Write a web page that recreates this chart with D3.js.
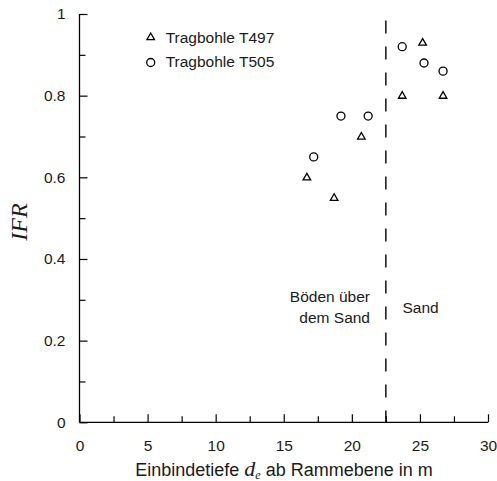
<!DOCTYPE html>
<html>
<head>
<meta charset="utf-8">
<script src="https://cdn.jsdelivr.net/npm/d3@7"></script>
<style>
  body { margin: 0; background: #fff; }
</style>
</head>
<body>
<div id="chart"></div>
<script>
// data
const depthT497 = [16.7, 18.7, 20.7, 23.7, 25.2, 26.7];
const ifrT497   = [0.60, 0.55, 0.70, 0.80, 0.93, 0.80];
const depthT505 = [17.2, 19.2, 21.2, 23.7, 25.3, 26.7];
const ifrT505   = [0.65, 0.75, 0.75, 0.92, 0.88, 0.86];
const seriesNames = ["Tragbohle T497", "Tragbohle T505"];
const xTicks = [0, 5, 10, 15, 20, 25, 30];
const yTicks = [0, 0.2, 0.4, 0.6, 0.8, 1];
const boundary = 22.5;

const width = 497, height = 481;
const sans = "Liberation Sans, Arial, Helvetica, sans-serif";
const serif = "Liberation Serif, Times New Roman, serif";

const svg = d3.select("#chart").append("svg")
    .attr("width", width)
    .attr("height", height)
    .style("font-family", sans);

const x = d3.scaleLinear().domain([0, 30]).range([79.5, 488]);
const y = d3.scaleLinear().domain([0, 1]).range([422.3, 14]);

// axes (ticks point inward)
const xAxis = d3.axisBottom(x).tickValues(xTicks).tickSize(-8).tickPadding(18)
    .tickFormat(d3.format("d"));
const xMinor = d3.axisBottom(x).tickValues(d3.range(2.5, 30, 5)).tickSize(-6).tickFormat("");
const yAxis = d3.axisLeft(y).tickValues(yTicks).tickSize(-8).tickPadding(14)
    .tickFormat(d => d === 0 || d === 1 ? d3.format("d")(d) : d3.format(".1f")(d));
const yMinor = d3.axisLeft(y).tickValues(d3.range(0.1, 1, 0.2)).tickSize(-6).tickFormat("");

function styleAxis(g) {
    g.select(".domain").remove();
    g.selectAll(".tick line").attr("stroke", "#000").attr("stroke-width", 1.2);
    g.selectAll(".tick text").attr("font-size", 15.5).attr("fill", "#1a1a1a")
        .attr("font-family", sans);
}

svg.append("g").attr("transform", `translate(0,${y(0)})`).call(xMinor).call(styleAxis);
svg.append("g").attr("transform", `translate(0,${y(0)})`).call(xAxis).call(styleAxis);
svg.append("g").attr("transform", `translate(${x(0)},0)`).call(yMinor).call(styleAxis);
svg.append("g").attr("transform", `translate(${x(0)},0)`).call(yAxis).call(styleAxis);

// plain axis lines, only left and bottom
svg.append("line").attr("x1", x(0)).attr("x2", x(30)).attr("y1", y(0)).attr("y2", y(0))
    .attr("stroke", "#000").attr("stroke-width", 1.3);
svg.append("line").attr("x1", x(0)).attr("x2", x(0)).attr("y1", y(0)).attr("y2", y(1))
    .attr("stroke", "#000").attr("stroke-width", 1.3);

// boundary between soil layers
svg.append("line")
    .attr("x1", x(boundary)).attr("x2", x(boundary))
    .attr("y1", y(0.984)).attr("y2", y(0))
    .attr("stroke", "#000").attr("stroke-width", 1.4)
    .attr("stroke-dasharray", "13,13");

svg.append("text").attr("x", 370).attr("y", 302).attr("text-anchor", "end")
    .attr("font-size", 15.5).attr("fill", "#1a1a1a").text("Böden über");
svg.append("text").attr("x", 370).attr("y", 323).attr("text-anchor", "end")
    .attr("font-size", 15.5).attr("fill", "#1a1a1a").text("dem Sand");
svg.append("text").attr("x", 402.5).attr("y", 313)
    .attr("font-size", 15.5).attr("fill", "#1a1a1a").text("Sand");

// markers
const tri = "M0,-4 L3.8,2.6 L-3.8,2.6 Z";

svg.append("g").selectAll("path")
    .data(d3.zip(depthT497, ifrT497))
    .join("path")
    .attr("d", tri)
    .attr("transform", d => `translate(${x(d[0])},${y(d[1])})`)
    .attr("fill", "#fff").attr("stroke", "#000").attr("stroke-width", 1.3);

svg.append("g").selectAll("circle")
    .data(d3.zip(depthT505, ifrT505))
    .join("circle")
    .attr("cx", d => x(d[0])).attr("cy", d => y(d[1])).attr("r", 4)
    .attr("fill", "#fff").attr("stroke", "#000").attr("stroke-width", 1.3);

// legend
const legend = svg.append("g").attr("transform", "translate(150.7,0)");
legend.append("path").attr("d", tri).attr("transform", "translate(0,37)")
    .attr("fill", "#fff").attr("stroke", "#000").attr("stroke-width", 1.3);
legend.append("circle").attr("cx", 0).attr("cy", 62.5).attr("r", 4)
    .attr("fill", "#fff").attr("stroke", "#000").attr("stroke-width", 1.3);
legend.selectAll("text.lg")
    .data(seriesNames)
    .join("text")
    .attr("class", "lg")
    .attr("x", 15).attr("y", (d, i) => 42.5 + i * 24.5)
    .attr("font-size", 15.5).attr("fill", "#1a1a1a")
    .text(d => d);

// axis titles
svg.append("text")
    .attr("transform", "translate(27,222) rotate(-90)")
    .attr("text-anchor", "middle")
    .style("font-family", serif)
    .style("font-style", "italic")
    .attr("font-size", 24)
    .attr("fill", "#1a1a1a")
    .text("IFR");

const xt = svg.append("text")
    .attr("x", 284).attr("y", 476)
    .attr("text-anchor", "middle")
    .attr("font-size", 18)
    .attr("fill", "#1a1a1a");
xt.append("tspan").text("Einbindetiefe ");
xt.append("tspan").style("font-family", serif)
    .style("font-style", "italic").attr("font-size", 22).text("d");
xt.append("tspan").style("font-family", serif)
    .style("font-style", "italic").attr("font-size", 12).attr("dy", 3).text("e");
xt.append("tspan").attr("dy", -3).text(" ab Rammebene in m");
</script>
</body>
</html>
